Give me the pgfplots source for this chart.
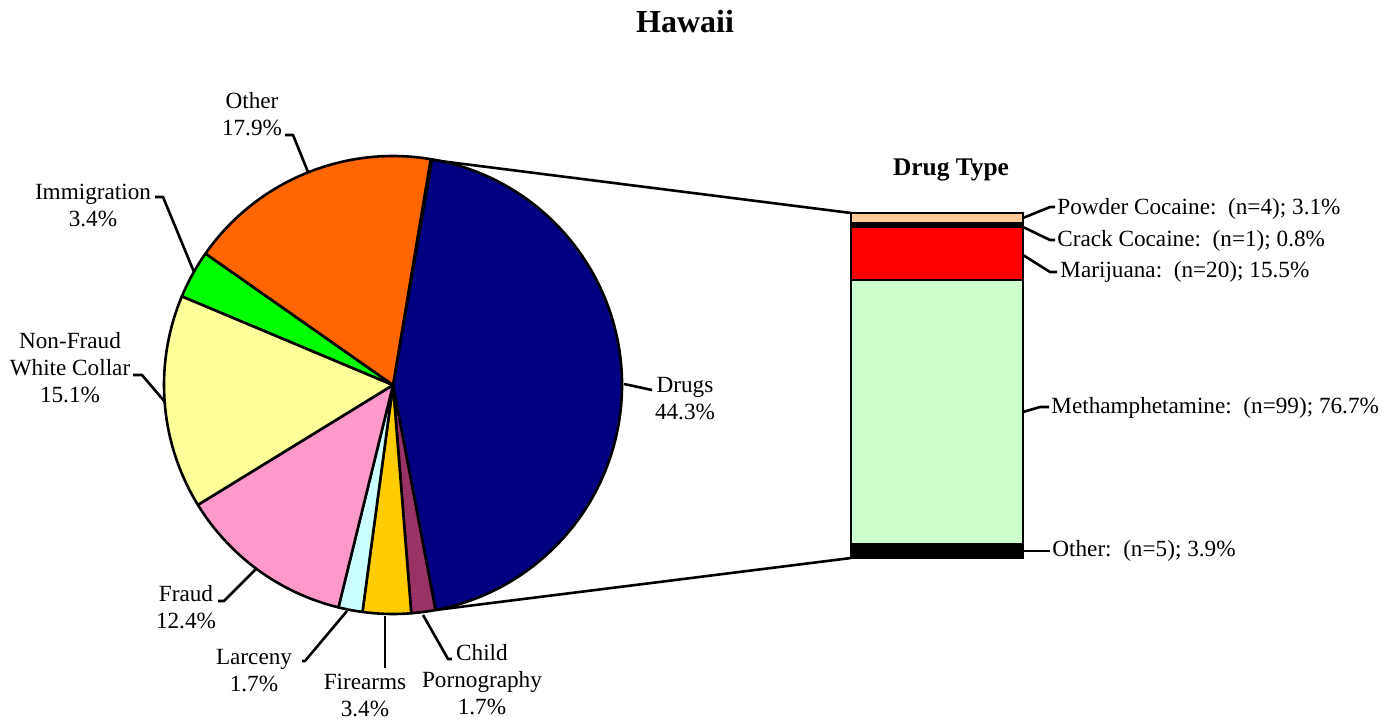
\documentclass[border=0pt]{standalone}
\usepackage{fontspec}
\setmainfont{Liberation Serif}
\usepackage{pgfplots}
\pgfplotsset{compat=1.18}

\definecolor{cDrugs}{HTML}{000080}
\definecolor{cChild}{HTML}{993366}
\definecolor{cFire}{HTML}{FFCC00}
\definecolor{cLarc}{HTML}{CCFFFF}
\definecolor{cFraud}{HTML}{FF99CC}
\definecolor{cNonF}{HTML}{FFFF99}
\definecolor{cImm}{HTML}{00FF00}
\definecolor{cOther}{HTML}{FF6600}
\definecolor{cPowder}{HTML}{FFCC99}
\definecolor{cMari}{HTML}{FF0000}
\definecolor{cMeth}{HTML}{CCFFCC}

\tikzset{
  lbl/.style={font=\fontsize{11.6}{13.5}\selectfont, align=center, inner sep=0pt},
  lead/.style={line width=1.3pt, line join=round},
}

\begin{document}
\begin{tikzpicture}
% pie, in pixel-like units (0.5pt each)
\begin{axis}[
    width=693pt, height=359.5pt, scale only axis,
    xmin=0, xmax=1386, ymin=0, ymax=719,
    hide axis, clip=false,
]
\pgfplotsextra{
  \def\R{114.5pt}
  \gdef\angA{80.17}
  % value/colour, clockwise from Drugs
  \foreach \v/\c in {44.3/cDrugs, 1.7/cChild, 3.4/cFire, 1.7/cLarc,
                     12.4/cFraud, 15.1/cNonF, 3.4/cImm, 17.9/cOther}{
    \pgfmathsetmacro\angB{\angA-3.6*\v}
    \filldraw[fill=\c, draw=black, line width=1.3pt, line join=round]
      (axis cs:393,334) -- ++(\angA:\R) arc[start angle=\angA, end angle=\angB, radius=\R] -- cycle;
    \global\let\angA\angB
  }
}
% connectors to the bar
\draw[lead] (axis cs:432,559) -- (axis cs:851,506);
\draw[lead] (axis cs:435.5,109) -- (axis cs:851,161);

\node[font=\fontsize{16}{18}\selectfont\bfseries] at (axis cs:685,697) {Hawaii};
\node[font=\fontsize{12.7}{14}\selectfont\bfseries] at (axis cs:951,549) {Drug Type};

% pie labels
\node[lbl] at (axis cs:252,604.5) {Other\\17.9\%};
\draw[lead] (axis cs:285,584) -- (axis cs:293,584) -- (axis cs:308,547);
\node[lbl] at (axis cs:93,513.5) {Immigration\\3.4\%};
\draw[lead] (axis cs:155,522) -- (axis cs:163,522) -- (axis cs:194,447);
\node[lbl] at (axis cs:70,351) {Non-Fraud\\White Collar\\15.1\%};
\draw[lead] (axis cs:133,344) -- (axis cs:142,344) -- (axis cs:165,317);
\node[lbl] at (axis cs:186,111.5) {Fraud\\12.4\%};
\draw[lead] (axis cs:218,118) -- (axis cs:224,118) -- (axis cs:256,150);
\node[lbl] at (axis cs:254,48.5) {Larceny\\1.7\%};
\draw[lead] (axis cs:302,58) -- (axis cs:305,58) -- (axis cs:347,108);
\node[lbl] at (axis cs:365,24) {Firearms\\3.4\%};
\draw[lead] (axis cs:385,51) -- (axis cs:385,103);
\node[lbl] at (axis cs:482,39) {Child\\Pornography\\1.7\%};
\draw[lead] (axis cs:452,60) -- (axis cs:448,60) -- (axis cs:423,104);
\node[lbl] at (axis cs:685,320.5) {Drugs\\44.3\%};
\draw[lead] (axis cs:624,335) -- (axis cs:652,329);

% bar labels
\node[lbl, anchor=west] at (axis cs:1057,510) {Powder Cocaine:~~(n=4); 3.1\%};
\draw[lead] (axis cs:1023,501) -- (axis cs:1050,512) -- (axis cs:1055,512);
\node[lbl, anchor=west] at (axis cs:1057,478) {Crack Cocaine:~~(n=1); 0.8\%};
\draw[lead] (axis cs:1023,492) -- (axis cs:1050,479) -- (axis cs:1055,479);
\node[lbl, anchor=west] at (axis cs:1060,447) {Marijuana:~~(n=20); 15.5\%};
\draw[lead] (axis cs:1023,464) -- (axis cs:1050,447) -- (axis cs:1057,447);
\node[lbl, anchor=west] at (axis cs:1051,311) {Methamphetamine:~~(n=99); 76.7\%};
\draw[lead] (axis cs:1023,307) -- (axis cs:1040,312) -- (axis cs:1049,312);
\node[lbl, anchor=west] at (axis cs:1052,168) {Other:~~(n=5); 3.9\%};
\draw[lead] (axis cs:1023,168) -- (axis cs:1050,168);
\end{axis}

% drug type bar
\begin{axis}[
    at={(425.5pt,80.5pt)}, anchor=south west,
    width=86pt, height=172.5pt, scale only axis,
    xmin=0, xmax=1, ymin=0, ymax=100,
    hide axis, clip=false,
    ybar stacked, bar width=86pt,
]
\addplot[fill=black, draw=black, line width=1.3pt] coordinates {(0.5,3.9)};
\addplot[fill=cMeth, draw=black, line width=1.3pt] coordinates {(0.5,76.7)};
\addplot[fill=cMari, draw=black, line width=1.3pt] coordinates {(0.5,15.5)};
\addplot[fill=black, draw=black, line width=1.3pt] coordinates {(0.5,0.8)};
\addplot[fill=cPowder, draw=black, line width=1.3pt] coordinates {(0.5,3.1)};
\end{axis}
\pgfresetboundingbox
\useasboundingbox (0,0) rectangle (693pt,359.5pt);
\end{tikzpicture}
\end{document}
